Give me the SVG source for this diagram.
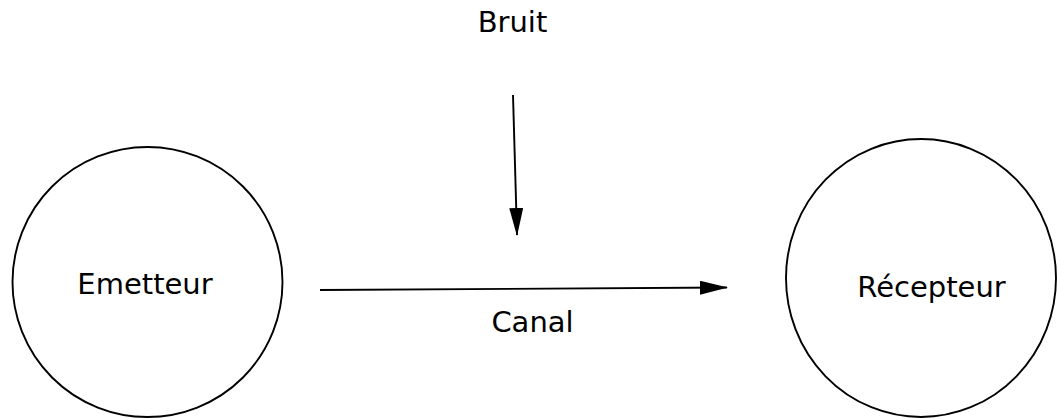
<svg xmlns="http://www.w3.org/2000/svg" width="1057" height="418" viewBox="0 0 1057 418">
<style>
.node{fill:#fff;stroke:#000;stroke-width:1.9}
.lbl{font-family:"DejaVu Sans","Noto Sans",sans-serif;font-size:29px;fill:#000;text-anchor:middle}
.edge{stroke:#000;stroke-width:1.9;fill:none}
</style>
<defs>
<marker id="arr" viewBox="0 0 28 14" refX="27" refY="7" markerWidth="28" markerHeight="14" markerUnits="userSpaceOnUse" orient="auto">
<path d="M0,0 L28,7 L0,14 Z" fill="#000"/>
</marker>
</defs>
<rect width="1057" height="418" fill="#fff"/>
<g id="emetteur">
<circle class="node" cx="147.5" cy="282" r="135"/>
<text class="lbl" x="145" y="294">Emetteur</text>
</g>
<g id="recepteur">
<ellipse class="node" cx="921" cy="278" rx="135" ry="139"/>
<text class="lbl" x="931.5" y="297">Récepteur</text>
</g>
<g id="bruit">
<text class="lbl" x="512.5" y="32">Bruit</text>
</g>
<g id="connectors">
<line class="edge" x1="320" y1="290" x2="727" y2="287.5" marker-end="url(#arr)"/>
<line class="edge" x1="513" y1="95" x2="517" y2="235" marker-end="url(#arr)"/>
<text class="lbl" x="532.5" y="332">Canal</text>
</g>
</svg>
